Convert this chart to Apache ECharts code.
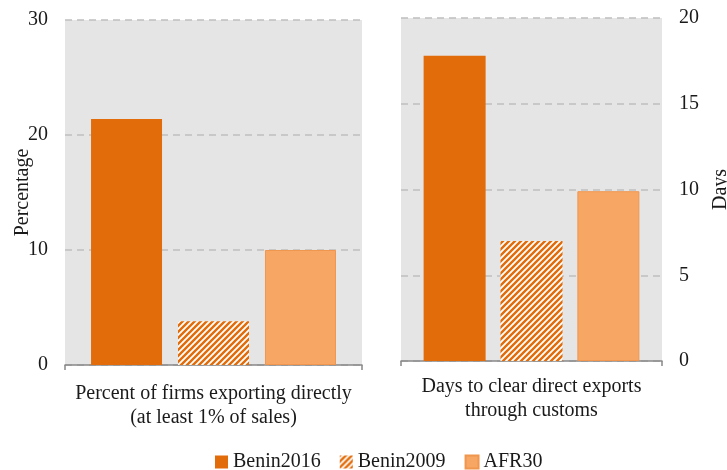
<!DOCTYPE html>
<html>
<head>
<meta charset="utf-8">
<script src="https://cdn.jsdelivr.net/npm/echarts@6/dist/echarts.min.js"></script>
<style>
html,body{margin:0;padding:0;background:#fff;}
#c{width:727px;height:470px;}
</style>
</head>
<body>
<div id="c"></div>
<script>
// ---- data ----
var categories = ['Percent of firms exporting directly\n(at least 1% of sales)', 'Days to clear direct exports\nthrough customs'];
var seriesNames = ['Benin2016', 'Benin2009', 'AFR30'];
var benin2016 = [21.4, 17.8];
var benin2009 = [3.8, 7.0];
var afr30 = [10.0, 9.9];
var leftTicks = [0, 10, 20, 30];
var rightTicks = [0, 5, 10, 15, 20];

// ---- styles ----
var FONT = 'Liberation Serif';
var C2016 = '#E36C0A';
var CAFR = '#F7A663';

function hatch() {
  var s = 6;
  var cv = document.createElement('canvas');
  cv.width = s; cv.height = s;
  var ctx = cv.getContext('2d');
  ctx.fillStyle = '#ffffff';
  ctx.fillRect(0, 0, s, s);
  ctx.strokeStyle = C2016;
  ctx.lineWidth = 2.4;
  ctx.beginPath();
  ctx.moveTo(-1, s + 1); ctx.lineTo(s + 1, -1);
  ctx.moveTo(-1, 1); ctx.lineTo(1, -1);
  ctx.moveTo(s - 1, s + 1); ctx.lineTo(s + 1, s - 1);
  ctx.stroke();
  return {image: cv, repeat: 'repeat'};
}
var HATCH = hatch();

var chart = echarts.init(document.getElementById('c'), null, {renderer: 'canvas'});

var grids = [
  {left: 65, top: 20, width: 297, height: 345},
  {left: 401, top: 18, width: 261, height: 343}
];
var barW = [71, 62];
var barGap = ['22.5%', '24%'];
var labelMargin = [17, 14];
var valueSets = [benin2016, benin2009, afr30];
var styles = [
  {color: C2016},
  {color: HATCH},
  {color: CAFR, borderColor: '#F0964F', borderWidth: 1}
];

var series = [];
for (var g = 0; g < 2; g++) {
  for (var k = 0; k < 3; k++) {
    series.push({
      type: 'bar',
      name: seriesNames[k],
      xAxisIndex: g,
      yAxisIndex: g,
      data: [valueSets[k][g]],
      barWidth: barW[g],
      barGap: barGap[g],
      itemStyle: styles[k],
      emphasis: {disabled: true}
    });
  }
}

function xAxis(g) {
  return {
    type: 'category',
    gridIndex: g,
    data: [categories[g]],
    axisLine: {show: true, lineStyle: {color: '#888888', width: 1.5}},
    axisTick: {show: true, length: 5, lineStyle: {color: '#888888', width: 1.5}},
    axisLabel: {fontFamily: FONT, fontSize: 20, color: '#1a1a1a', lineHeight: 23.5, margin: labelMargin[g]}
  };
}
function yAxis(g, ticks, interval, pos, name, nameGap) {
  return {
    type: 'value',
    gridIndex: g,
    position: pos,
    min: ticks[0],
    max: ticks[ticks.length - 1],
    interval: interval,
    name: name,
    nameLocation: 'middle',
    nameRotate: 90,
    nameGap: nameGap,
    nameMoveOverlap: false,
    nameTextStyle: {fontFamily: FONT, fontSize: 20, color: '#1a1a1a'},
    axisLine: {show: false},
    axisTick: {show: false},
    axisLabel: {fontFamily: FONT, fontSize: 20, color: '#1a1a1a', margin: 17},
    splitLine: {show: true, lineStyle: {color: '#BFBFBF', type: [7, 5], width: 1.5}}
  };
}

chart.setOption({
  animation: false,
  backgroundColor: '#ffffff',
  grid: grids.map(function (gr) {
    return Object.assign({show: true, backgroundColor: '#E5E5E5', borderWidth: 0, containLabel: false, outerBoundsMode: 'none'}, gr);
  }),
  legend: {
    data: seriesNames,
    top: 447,
    left: 210,
    itemWidth: 13,
    itemHeight: 13,
    itemGap: 19,
    icon: 'rect',
    textStyle: {fontFamily: FONT, fontSize: 20, color: '#1a1a1a'}
  },
  xAxis: [xAxis(0), xAxis(1)],
  yAxis: [
    yAxis(0, leftTicks, 10, 'left', 'Percentage', 32),
    yAxis(1, rightTicks, 5, 'right', 'Days', 49)
  ],
  series: series
});
</script>
</body>
</html>
